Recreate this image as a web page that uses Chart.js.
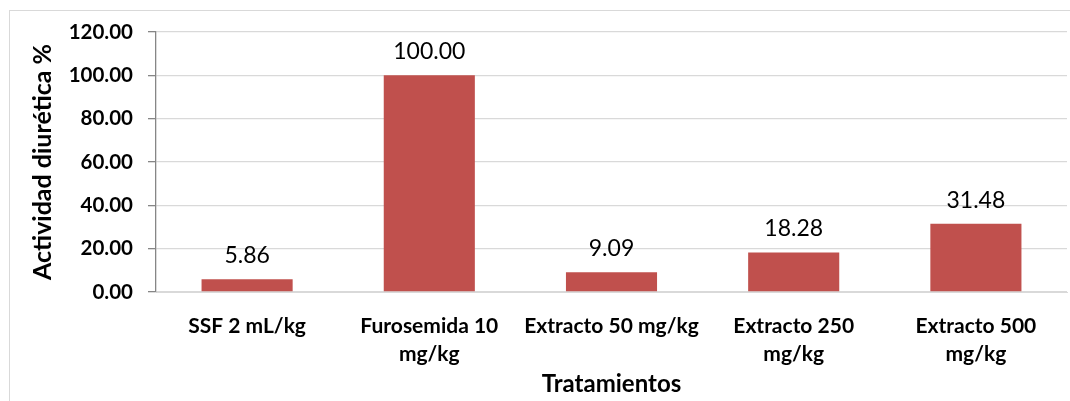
<!DOCTYPE html>
<html>
<head>
<meta charset="utf-8">
<script src="https://cdn.jsdelivr.net/npm/chart.js@4.4.1/dist/chart.umd.min.js"></script>
<style>
  html, body { margin: 0; padding: 0; background: #fff; }
  #c { display: block; }
</style>
</head>
<body>
<canvas id="c" width="1070" height="401"></canvas>
<script>
// Treatments and their diuretic activity (%)
const categories = [
  'SSF 2 mL/kg',
  ['Furosemida 10', 'mg/kg'],
  'Extracto 50 mg/kg',
  ['Extracto 250', 'mg/kg'],
  ['Extracto 500', 'mg/kg']
];
const activity = [5.86, 100.00, 9.09, 18.28, 31.48];
const yTicks = [0, 20, 40, 60, 80, 100, 120];

const FONT = 'Lato, "Open Sans", sans-serif';

// Thin outer frame around the figure
const framePlugin = {
  id: 'frame',
  beforeDraw(chart) {
    const ctx = chart.ctx;
    ctx.save();
    ctx.fillStyle = '#fff';
    ctx.fillRect(0, 0, chart.width, chart.height);
    ctx.strokeStyle = '#d9d9d9';
    ctx.lineWidth = 1;
    ctx.strokeRect(9.5, 10.5, chart.width, chart.height);
    ctx.restore();
  }
};

// Value labels above each bar
const valueLabels = {
  id: 'valueLabels',
  afterDatasetsDraw(chart) {
    const ctx = chart.ctx;
    const meta = chart.getDatasetMeta(0);
    ctx.save();
    ctx.font = '23px ' + FONT;
    ctx.fillStyle = '#000';
    ctx.textAlign = 'center';
    ctx.textBaseline = 'alphabetic';
    meta.data.forEach((bar, i) => {
      const v = chart.data.datasets[0].data[i];
      ctx.fillText(v.toFixed(2), bar.x, bar.y - 16);
    });
    ctx.restore();
  }
};

new Chart(document.getElementById('c'), {
  type: 'bar',
  data: {
    labels: categories,
    datasets: [{
      data: activity,
      backgroundColor: '#c0504d',
      borderWidth: 0,
      barPercentage: 0.5,
      categoryPercentage: 1.0
    }]
  },
  options: {
    responsive: false,
    animation: false,
    devicePixelRatio: 1,
    layout: { padding: { left: 0, top: 32, right: 3, bottom: 0 } },
    plugins: {
      legend: { display: false },
      tooltip: { enabled: false }
    },
    scales: {
      x: {
        grid: { display: false },
        border: { display: true, color: '#d9d9d9', width: 1 },
        ticks: {
          color: '#000',
          font: { family: FONT, size: 21, weight: 'bold', lineHeight: 1.3 },
          padding: 13,
          maxRotation: 0,
          minRotation: 0,
          autoSkip: false
        },
        title: {
          display: true,
          text: 'Tratamientos',
          color: '#000',
          font: { family: FONT, size: 24, weight: 'bold', lineHeight: 1.2 },
          padding: { top: 0, bottom: 2 }
        },
        afterFit(scale) { scale.height = 109; }
      },
      y: {
        min: 0,
        max: 120,
        afterBuildTicks(scale) { scale.ticks = yTicks.map(v => ({ value: v })); },
        grid: {
          color: '#d9d9d9',
          lineWidth: 1.3,
          tickColor: '#868686',
          tickLength: 8
        },
        border: { display: true, color: '#868686', width: 1.3 },
        ticks: {
          color: '#000',
          font: { family: FONT, size: 20.5, weight: 'bold' },
          padding: 15,
          callback: v => Number(v).toFixed(2)
        },
        title: {
          display: true,
          text: 'Actividad diurética %',
          color: '#000',
          font: { family: FONT, size: 25, weight: 'bold', lineHeight: 1.2 },
          padding: { top: 28, bottom: 0 }
        },
        afterFit(scale) { scale.width = 156; }
      }
    }
  },
  plugins: [framePlugin, valueLabels]
});
</script>
</body>
</html>
